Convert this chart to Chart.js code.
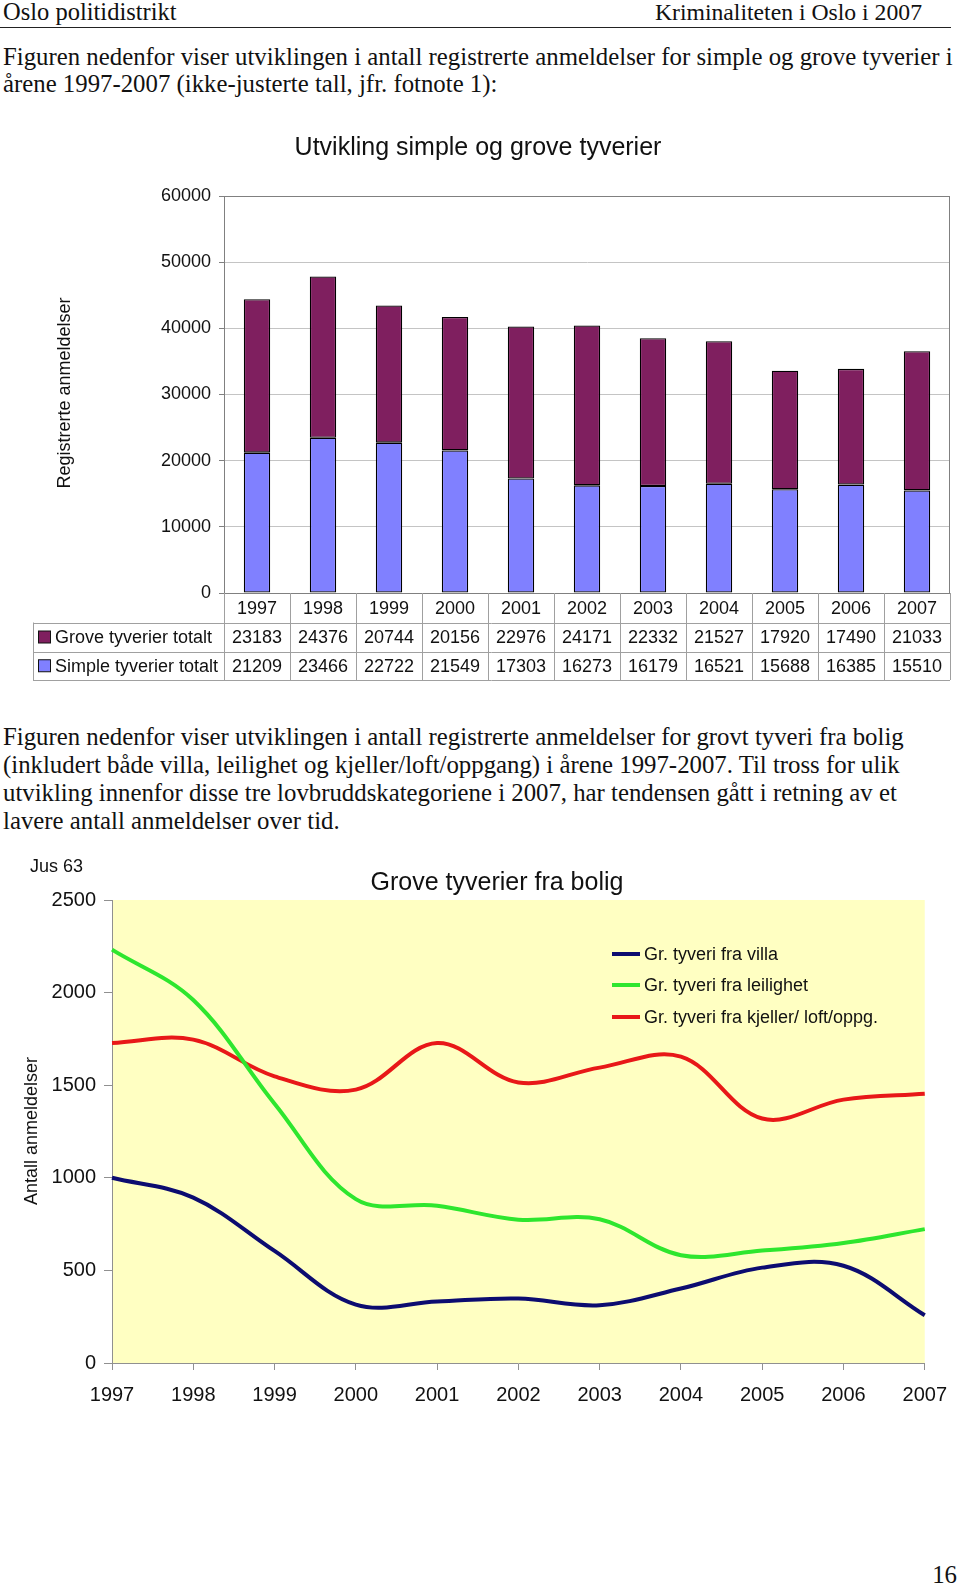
<!DOCTYPE html>
<html><head><meta charset="utf-8">
<script src="https://cdn.jsdelivr.net/npm/chart.js@4.4.0/dist/chart.umd.min.js"></script>
<style>
html,body{margin:0;padding:0;background:#fff;}
body{width:960px;height:1587px;position:relative;overflow:hidden;}
.t{position:absolute;white-space:nowrap;font-family:"Liberation Serif","Times New Roman",serif;font-size:24.8px;line-height:28px;height:28px;color:#111;}
#hr{position:absolute;left:0;top:27px;width:951px;height:0;border-top:1.5px solid #222;}
#c1wrap{position:absolute;left:0;top:110px;width:960px;height:590px;}
#c2wrap{position:absolute;left:0;top:840px;width:960px;height:590px;}
</style></head>
<body>
<div class="t" data-x="3" data-y="12" style="font-size:24.5px">Oslo politidistrikt</div>
<div class="t" data-r="922" data-y="12" style="font-size:23.7px">Kriminaliteten i Oslo i 2007</div>
<div id="hr"></div>
<div class="t" data-x="3" data-y="57">Figuren nedenfor viser utviklingen i antall registrerte anmeldelser for simple og grove tyverier i</div>
<div class="t" data-x="3" data-y="84">årene 1997-2007 (ikke-justerte tall, jfr. fotnote 1):</div>
<div class="t" data-x="3" data-y="737">Figuren nedenfor viser utviklingen i antall registrerte anmeldelser for grovt tyveri fra bolig</div>
<div class="t" data-x="3" data-y="765">(inkludert både villa, leilighet og kjeller/loft/oppgang) i årene 1997-2007. Til tross for ulik</div>
<div class="t" data-x="3" data-y="793">utvikling innenfor disse tre lovbruddskategoriene i 2007, har tendensen gått i retning av et</div>
<div class="t" data-x="3" data-y="821">lavere antall anmeldelser over tid.</div>
<div class="t" data-r="957" data-y="1575">16</div>
<div id="c1wrap"><canvas id="c1"></canvas></div>
<div id="c2wrap"><canvas id="c2"></canvas></div>
<script>
// ---------- data ----------
const years = ['1997','1998','1999','2000','2001','2002','2003','2004','2005','2006','2007'];
const groveTotalt  = [23183, 24376, 20744, 20156, 22976, 24171, 22332, 21527, 17920, 17490, 21033];
const simpleTotalt = [21209, 23466, 22722, 21549, 17303, 16273, 16179, 16521, 15688, 16385, 15510];
const barYTicks = [0, 10000, 20000, 30000, 40000, 50000, 60000];

const villa     = [1000, 893, 605, 315, 332, 348, 312, 402, 515, 525, 258];
const leilighet = [2232, 1960, 1400, 885, 849, 774, 776, 582, 607, 648, 723];
const kjeller   = [1728, 1746, 1548, 1476, 1728, 1515, 1595, 1654, 1320, 1422, 1454];
const lineYTicks = [0, 500, 1000, 1500, 2000, 2500];

// ---------- text placement ----------
document.querySelectorAll('.t').forEach(el => {
  el.style.top = (parseFloat(el.dataset.y) - 14) + 'px';
  if (el.dataset.r) {
    el.style.left = '0px';
    const w = el.getBoundingClientRect().width;
    el.style.left = (parseFloat(el.dataset.r) - w) + 'px';
  } else {
    el.style.left = el.dataset.x + 'px';
  }
});

const SANS = '"Liberation Sans", Arial, sans-serif';
const C_GROVE = '#7f1f5f', C_SIMPLE = '#8080ff';

// ---------- chart 1: stacked bars with data table ----------
const tablePlugin = {
  id: 'tablePlugin',
  afterDraw(chart) {
    const ctx = chart.ctx, ca = chart.chartArea, xs = chart.scales.x;
    const half = (xs.getPixelForValue(1) - xs.getPixelForValue(0)) / 2;
    const r0 = ca.bottom, r1 = ca.bottom + 29.5, r2 = ca.bottom + 58.5, r3 = ca.bottom + 87;
    const leftX = 33;
    ctx.save();
    ctx.strokeStyle = '#808080'; ctx.lineWidth = 1;
    ctx.strokeRect(ca.left + 0.5, ca.top + 0.5, ca.right - ca.left - 1, ca.bottom - ca.top);
    ctx.strokeStyle = '#a0a0a0';
    ctx.beginPath();
    for (let i = 0; i <= years.length; i++) {
      const x = Math.round(xs.getPixelForValue(0) - half + 2 * half * i) + 0.5;
      ctx.moveTo(x, r0); ctx.lineTo(x, r3);
    }
    ctx.moveTo(leftX + 0.5, r1); ctx.lineTo(leftX + 0.5, r3);
    [r1, r2, r3].forEach(y => { ctx.moveTo(leftX, Math.round(y) + 0.5); ctx.lineTo(ca.right, Math.round(y) + 0.5); });
    ctx.stroke();
    ctx.fillStyle = '#111';
    ctx.font = '18px ' + SANS;
    ctx.textAlign = 'center'; ctx.textBaseline = 'middle';
    years.forEach((y, i) => {
      const x = xs.getPixelForValue(i);
      ctx.fillText(y, x, (r0 + r1) / 2 + 1);
      ctx.fillText(String(groveTotalt[i]), x, (r1 + r2) / 2 + 1);
      ctx.fillText(String(simpleTotalt[i]), x, (r2 + r3) / 2 + 1);
    });
    ctx.textAlign = 'left';
    const ds = chart.data.datasets;
    [[ds[1], (r1 + r2) / 2], [ds[0], (r2 + r3) / 2]].forEach(([d, cy]) => {
      ctx.fillStyle = d.backgroundColor; ctx.strokeStyle = '#111';
      ctx.fillRect(38.5, cy - 6, 12, 12); ctx.strokeRect(38.5, cy - 6, 12, 12);
      ctx.fillStyle = '#111';
      ctx.fillText(d.label, 55, cy + 1);
    });
    ctx.textAlign = 'center';
    ctx.font = '25px ' + SANS;
    ctx.fillText('Utvikling simple og grove tyverier', 478, 38);
    ctx.translate(65, 283); ctx.rotate(-Math.PI / 2);
    ctx.font = '18px ' + SANS;
    ctx.fillText('Registrerte anmeldelser', 0, 0);
    ctx.restore();
  }
};

new Chart(document.getElementById('c1'), {
  type: 'bar',
  data: {
    labels: years,
    datasets: [
      { label: 'Simple tyverier totalt', data: simpleTotalt, backgroundColor: C_SIMPLE, borderColor: '#000', borderWidth: 1.3, borderSkipped: false },
      { label: 'Grove tyverier totalt', data: groveTotalt, backgroundColor: C_GROVE, borderColor: '#000', borderWidth: 1.3, borderSkipped: false }
    ]
  },
  options: {
    responsive: true, maintainAspectRatio: false, animation: false,
    layout: { padding: { top: 86, left: 0, right: 10, bottom: 20 } },
    plugins: { legend: { display: false }, tooltip: { enabled: false } },
    datasets: { bar: { categoryPercentage: 1, barPercentage: 0.4 } },
    scales: {
      x: {
        stacked: true, offset: true,
        grid: { display: false },
        ticks: { display: false },
        border: { display: true, color: '#808080' },
        afterFit: s => { s.height = 87; }
      },
      y: {
        stacked: true, min: barYTicks[0], max: barYTicks[barYTicks.length - 1],
        afterBuildTicks: s => { s.ticks = barYTicks.map(v => ({ value: v })); },
        grid: { color: '#c4c4c4', tickColor: '#808080', tickLength: 5 },
        border: { display: true, color: '#808080' },
        ticks: { color: '#111', font: { family: SANS, size: 18 }, padding: 8, callback: v => String(v) },
        afterFit: s => { s.width = 224; }
      }
    }
  },
  plugins: [tablePlugin]
});

// ---------- chart 2: smoothed lines ----------
const linePlugin = {
  id: 'linePlugin',
  beforeDraw(chart) {
    const ctx = chart.ctx, ca = chart.chartArea;
    ctx.save();
    ctx.fillStyle = '#ffffc2';
    ctx.fillRect(ca.left, ca.top, ca.right - ca.left, ca.bottom - ca.top);
    ctx.restore();
  },
  afterDraw(chart) {
    const ctx = chart.ctx;
    ctx.save();
    ctx.fillStyle = '#111';
    ctx.textBaseline = 'middle';
    ctx.textAlign = 'center';
    ctx.font = '25px ' + SANS;
    ctx.fillText('Grove tyverier fra bolig', 497, 43);
    ctx.textAlign = 'left';
    ctx.font = '18px ' + SANS;
    ctx.fillText('Jus 63', 30, 27);
    const ly = [114, 145, 177];
    chart.data.datasets.forEach((d, i) => {
      ctx.strokeStyle = d.borderColor; ctx.lineWidth = 4;
      ctx.beginPath(); ctx.moveTo(612, ly[i]); ctx.lineTo(640, ly[i]); ctx.stroke();
      ctx.fillStyle = '#111';
      ctx.fillText(d.label, 644, ly[i] + 1);
    });
    ctx.textAlign = 'center';
    ctx.translate(32, 291); ctx.rotate(-Math.PI / 2);
    ctx.fillText('Antall anmeldelser', 0, 0);
    ctx.restore();
  }
};

new Chart(document.getElementById('c2'), {
  type: 'line',
  data: {
    labels: years,
    datasets: [
      { label: 'Gr. tyveri fra villa', data: villa, borderColor: '#0c0c70' },
      { label: 'Gr. tyveri fra leilighet', data: leilighet, borderColor: '#2ee62e' },
      { label: 'Gr. tyveri fra kjeller/ loft/oppg.', data: kjeller, borderColor: '#e81818' }
    ]
  },
  options: {
    responsive: true, maintainAspectRatio: false, animation: false,
    layout: { padding: { top: 60, left: 0, right: 33, bottom: 27 } },
    elements: { line: { tension: 0.36, borderWidth: 4, capBezierPoints: true }, point: { radius: 0 } },
    plugins: { legend: { display: false }, tooltip: { enabled: false } },
    scales: {
      x: {
        offset: false,
        grid: { drawOnChartArea: false, drawTicks: true, tickLength: 7, color: '#909090' },
        border: { display: true, color: '#909090' },
        ticks: { color: '#111', font: { family: SANS, size: 20 }, padding: 13, maxRotation: 0, autoSkip: false },
        afterFit: s => { s.height = 40; }
      },
      y: {
        min: lineYTicks[0], max: lineYTicks[lineYTicks.length - 1],
        afterBuildTicks: s => { s.ticks = lineYTicks.map(v => ({ value: v })); },
        grid: { drawOnChartArea: false, drawTicks: true, tickLength: 8, color: '#909090' },
        border: { display: true, color: '#909090' },
        ticks: { color: '#111', font: { family: SANS, size: 20 }, padding: 8, callback: v => String(v) },
        afterFit: s => { s.width = 112; }
      }
    }
  },
  plugins: [linePlugin]
});
</script>
</body></html>
